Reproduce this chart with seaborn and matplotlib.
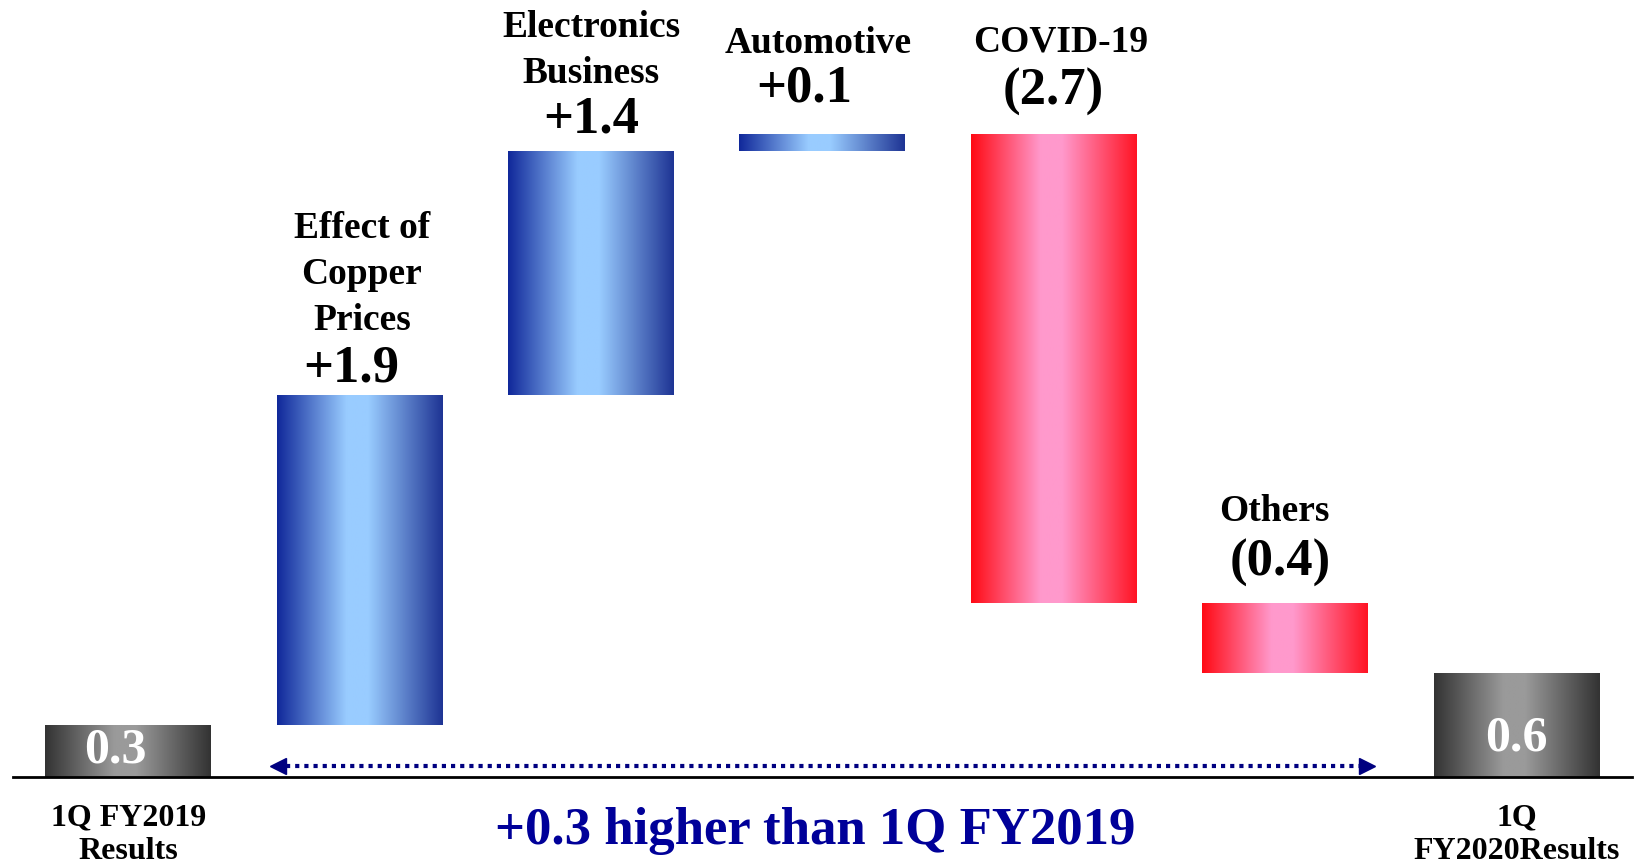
import numpy as np
import pandas as pd
import matplotlib
matplotlib.use("Agg")
import matplotlib.pyplot as plt
from matplotlib.colors import LinearSegmentedColormap
import seaborn as sns

# Waterfall data (billion yen)
categories = ["1Q FY2019 Results", "Effect of Copper Prices", "Electronics Business",
              "Automotive", "COVID-19", "Others", "1Q FY2020 Results"]
deltas = [0.3, 1.9, 1.4, 0.1, -2.7, -0.4, 0.6]
kinds = ["total", "up", "up", "up", "down", "down", "total"]
top_labels = ["", "Effect of\nCopper\nPrices", "Electronics\nBusiness", "Automotive",
              "COVID-19", "Others", ""]
value_labels = ["0.3", "+1.9", "+1.4", "+0.1", "(2.7)", "(0.4)", "0.6"]
tick_labels = ["1Q FY2019\nResults", "", "", "", "", "", "1Q\nFY2020Results"]
summary_text = "+0.3 higher than 1Q FY2019"

# waterfall bottoms / heights
run = np.cumsum([0] + deltas[:-1])
bottoms, heights = [], []
for d, k, r in zip(deltas, kinds, run):
    if k == "total":
        bottoms.append(0.0); heights.append(d)
    elif d >= 0:
        bottoms.append(r); heights.append(d)
    else:
        bottoms.append(r + d); heights.append(-d)
df = pd.DataFrame({"cat": categories, "height": heights, "bottom": bottoms})

sns.set_theme(style="white")
plt.rcParams["font.family"] = ["Liberation Serif", "DejaVu Serif"]
plt.rcParams["text.color"] = "black"
plt.rcParams["xtick.color"] = "black"

fig = plt.figure(figsize=(16.35, 8.65), dpi=100)
ax = fig.add_axes([0.0077, 0.1017, 0.9905, 0.8983])

sns.barplot(data=df, x="cat", y="height", bottom=df["bottom"].values, width=0.716,
            color="white", edgecolor="none", linewidth=0, ax=ax)

grad = {
    "total": ["#333333", "#9a9a9a", "#9a9a9a", "#333333"],
    "up": ["#10289a", "#99ccff", "#99ccff", "#1e3494"],
    "down": ["#ff0a14", "#ff99cc", "#ff99cc", "#ff1424"],
}
gradient = np.linspace(0, 1, 256).reshape(1, -1)
for patch, k in zip(ax.patches, kinds):
    cmap = LinearSegmentedColormap.from_list(k, list(zip([0, 0.42, 0.55, 1], grad[k])))
    x0, y0 = patch.get_x(), patch.get_y()
    w, h = patch.get_width(), patch.get_height()
    im = ax.imshow(gradient, cmap=cmap, aspect="auto", extent=[x0, x0 + w, y0, y0 + h],
                   zorder=2, interpolation="bilinear")
    im.set_clip_path(patch)
    patch.set_facecolor("none")

ax.set_xlim(-0.5, 6.5)
ax.set_ylim(0, 4.47)
ax.set_xlabel("")
ax.set_ylabel("")
ax.set_yticks([])
ax.set_xticks(range(len(categories)))
ax.set_xticklabels(tick_labels, fontsize=23, fontweight="bold", linespacing=1.22)
ax.tick_params(axis="x", length=0, pad=19)
for s in ["top", "left", "right"]:
    ax.spines[s].set_visible(False)
ax.spines["bottom"].set_color("black")
ax.spines["bottom"].set_linewidth(2)

# category labels above bars
lab_pos = [None, (1.01, 2.89), (2.0, 4.18), (2.98, 4.22), (4.03, 4.23), (4.955, 1.53), None]
for lab, pos in zip(top_labels, lab_pos):
    if pos is None:
        continue
    ax.text(pos[0], pos[1], lab, ha="center", va="center", fontsize=27,
            fontweight="bold", linespacing=1.4)

val_pos = [(-0.054, 0.15), (0.964, 2.35), (2.0, 3.78), (2.92, 3.96), (4.0, 3.94),
           (4.98, 1.23), (6.0, 0.22)]
for i, (lab, pos) in enumerate(zip(value_labels, val_pos)):
    color = "white" if kinds[i] == "total" else "black"
    size = 36 if kinds[i] == "total" else 38
    ax.text(pos[0], pos[1], lab, ha="center", va="center", fontsize=size,
            fontweight="bold", color=color, zorder=3)

# dotted double arrow
ay = 0.066
ax.plot([0.68, 5.32], [ay, ay], color="#000080", lw=3, linestyle=(0, (1, 1.2)), zorder=3)
ax.plot([0.646], [ay], marker="<", color="#000080", markersize=11, zorder=3)
ax.plot([5.354], [ay], marker=">", color="#000080", markersize=11, zorder=3)

ax.text(2.97, -0.31, summary_text, ha="center", va="center", fontsize=38,
        fontweight="bold", color="#000099", clip_on=False)

fig.savefig("out.png", dpi=100)
